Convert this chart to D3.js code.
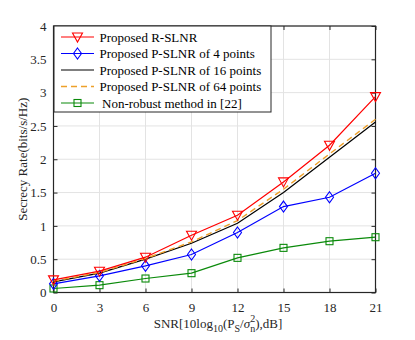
<!DOCTYPE html>
<html>
<head>
<meta charset="utf-8">
<script src="https://cdn.jsdelivr.net/npm/d3@7"></script>
<style>
  body { margin: 0; background: #fff; }
  svg text { font-family: "Liberation Serif", "DejaVu Serif", serif; }
</style>
</head>
<body>
<svg id="chart" width="415" height="340"></svg>
<script>
// data
const snr = [0, 3, 6, 9, 12, 15, 18, 21]
const rslnr = [0.19, 0.32, 0.53, 0.86, 1.16, 1.66, 2.21, 2.94]
const pslnr4 = [0.13, 0.25, 0.40, 0.57, 0.90, 1.29, 1.43, 1.79]
const pslnr16 = [0.16, 0.29, 0.50, 0.74, 1.04, 1.50, 2.03, 2.56]
const pslnr64 = [0.17, 0.30, 0.51, 0.76, 1.08, 1.55, 2.08, 2.60]
const nonRobust = [0.06, 0.11, 0.21, 0.29, 0.52, 0.67, 0.77, 0.83]
const xTicks = [0, 3, 6, 9, 12, 15, 18, 21]
const yTicks = [0, 0.5, 1, 1.5, 2, 2.5, 3, 3.5, 4]

const series = [
  { name: 'Proposed R-SLNR', values: rslnr, color: '#ff0000', marker: 'tri' },
  { name: 'Proposed P-SLNR of 4 points', values: pslnr4, color: '#0000ff', marker: 'diamond' },
  { name: 'Proposed P-SLNR of 16 points', values: pslnr16, color: '#000000', marker: null },
  { name: 'Proposed P-SLNR of 64 points', values: pslnr64, color: '#eda02a', marker: null, dash: '6,4' },
  { name: 'Non-robust method in [22]', values: nonRobust, color: '#0a8a0a', marker: 'square' }
]

const svg = d3.select('#chart')
const plotL = 53.5, plotR = 375.5, plotT = 26, plotB = 292.5

const x = d3.scaleLinear().domain([0, 21]).range([plotL, plotR])
const y = d3.scaleLinear().domain([0, 4]).range([plotB, plotT])

// grid
const grid = svg.append('g').attr('stroke', '#e3e3e3').attr('stroke-width', 1)
grid.selectAll('.gx').data(xTicks).enter().append('line')
  .attr('x1', d => x(d)).attr('x2', d => x(d)).attr('y1', plotT).attr('y2', plotB)
grid.selectAll('.gy').data(yTicks).enter().append('line')
  .attr('y1', d => y(d)).attr('y2', d => y(d)).attr('x1', plotL).attr('x2', plotR)

// axes, ticks drawn inward like matlab
const axisColor = '#262626'
function styleAxis(g) {
  g.attr('font-family', '"Liberation Serif", serif').attr('font-size', 13)
  g.select('.domain').remove()
  g.selectAll('.tick line').attr('stroke', axisColor)
  g.selectAll('.tick text').attr('fill', '#262626')
}
svg.append('g').attr('transform', `translate(0,${plotB})`)
  .call(d3.axisBottom(x).tickValues(xTicks).tickSizeInner(-4).tickSizeOuter(0).tickPadding(10))
  .call(styleAxis)
svg.append('g').attr('transform', `translate(${plotL},0)`)
  .call(d3.axisLeft(y).tickValues(yTicks).tickFormat(d3.format('~g')).tickSizeInner(-4).tickSizeOuter(0).tickPadding(7))
  .call(styleAxis)
svg.append('g').attr('transform', `translate(0,${plotT})`)
  .call(d3.axisTop(x).tickValues(xTicks).tickSizeInner(-4).tickSizeOuter(0).tickFormat(''))
  .call(styleAxis)
svg.append('g').attr('transform', `translate(${plotR},0)`)
  .call(d3.axisRight(y).tickValues(yTicks).tickSizeInner(-4).tickSizeOuter(0).tickFormat(''))
  .call(styleAxis)

svg.append('rect')
  .attr('x', plotL).attr('y', plotT).attr('width', plotR - plotL).attr('height', plotB - plotT)
  .attr('fill', 'none').attr('stroke', axisColor).attr('stroke-width', 1.2)

// marker drawing
function drawMarker(g, type, cx, cy, color) {
  if (type === 'tri') {
    g.append('path').attr('d', `M${cx - 5},${cy - 4}L${cx + 5},${cy - 4}L${cx},${cy + 5}Z`)
      .attr('fill', 'none').attr('stroke', color).attr('stroke-width', 1.1)
  } else if (type === 'diamond') {
    g.append('path').attr('d', `M${cx},${cy - 5.5}L${cx + 4},${cy}L${cx},${cy + 5.5}L${cx - 4},${cy}Z`)
      .attr('fill', 'none').attr('stroke', color).attr('stroke-width', 1.1)
  } else if (type === 'square') {
    g.append('rect').attr('x', cx - 3.5).attr('y', cy - 3.5).attr('width', 7).attr('height', 7)
      .attr('fill', 'none').attr('stroke', color).attr('stroke-width', 1.1)
  }
}

const line = d3.line().x((d, i) => x(snr[i])).y(d => y(d))

// draw green first so red ends on top
const order = [4, 1, 2, 3, 0]
order.forEach(k => {
  const s = series[k]
  const g = svg.append('g')
  g.append('path').datum(s.values)
    .attr('d', line)
    .attr('fill', 'none')
    .attr('stroke', s.color)
    .attr('stroke-width', s.dash ? 1.4 : 1.2)
    .attr('stroke-dasharray', s.dash || null)
  if (s.marker) {
    s.values.forEach((v, i) => drawMarker(g, s.marker, x(snr[i]), y(v), s.color))
  }
})

// legend
const lg = svg.append('g')
lg.append('rect').attr('x', 54).attr('y', 26).attr('width', 217).attr('height', 86)
  .attr('fill', '#fff').attr('stroke', '#262626').attr('stroke-width', 1)
series.forEach((s, i) => {
  const ly = 37 + i * 16.5
  lg.append('line').attr('x1', 61).attr('x2', 94).attr('y1', ly).attr('y2', ly)
    .attr('stroke', s.color).attr('stroke-width', s.dash ? 1.4 : 1.2)
    .attr('stroke-dasharray', s.dash || null)
  if (s.marker) drawMarker(lg, s.marker, 77.5, ly, s.color)
  lg.append('text').attr('x', i === 4 ? 102 : 99.5).attr('y', ly + 4.5)
    .style('font-size', '13px').attr('fill', '#000').text(s.name)
})

// axis titles
const xl = svg.append('text').attr('x', 218).attr('y', 328).attr('text-anchor', 'middle')
  .style('font-size', '13px').attr('fill', '#262626')
xl.append('tspan').text('SNR[10log')
xl.append('tspan').attr('dy', 4).style('font-size', '10px').text('10')
xl.append('tspan').attr('dy', -4).text('(P')
xl.append('tspan').attr('dy', 4).style('font-size', '10px').text('S')
xl.append('tspan').attr('dy', -4).text('/')
xl.append('tspan').style('font-style', 'italic').text('σ')
xl.append('tspan').attr('dy', -6).style('font-size', '10px').text('2')
xl.append('tspan').attr('dx', -5).attr('dy', 10).style('font-size', '10px').text('n')
xl.append('tspan').attr('dy', -4).text('),dB]')

svg.append('text')
  .attr('transform', `translate(26.5,${(plotT + plotB) / 2}) rotate(-90)`)
  .attr('text-anchor', 'middle')
  .style('font-size', '13px').attr('fill', '#262626')
  .text('Secrecy Rate(bits/s/Hz)')
</script>
</body>
</html>
